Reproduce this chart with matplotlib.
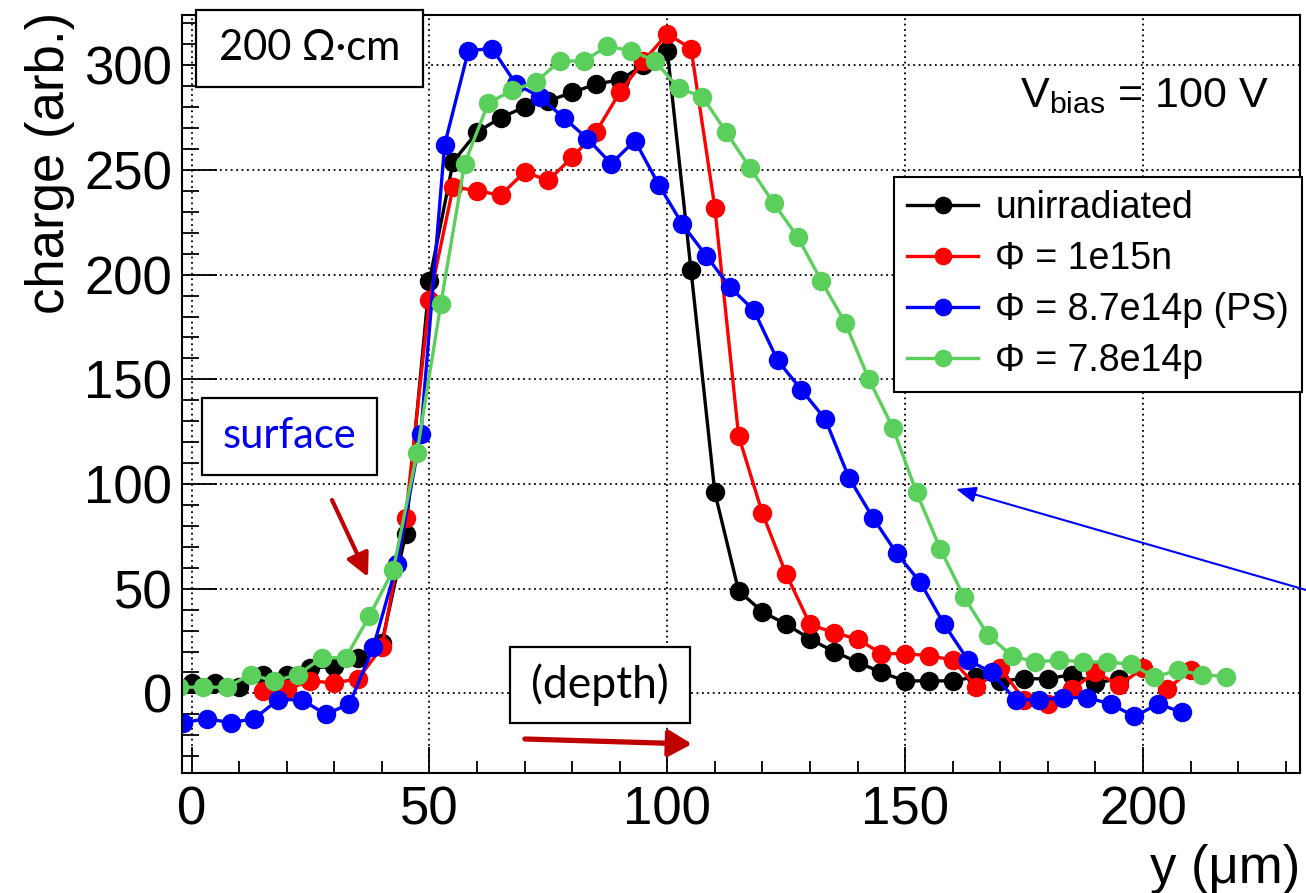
import matplotlib
matplotlib.use('Agg')
import matplotlib.pyplot as plt
from matplotlib.patches import Rectangle, FancyArrowPatch
from matplotlib.ticker import MultipleLocator

plt.rcParams['font.family'] = ['Liberation Sans', 'DejaVu Sans']
plt.rcParams['mathtext.fontset'] = 'custom'
plt.rcParams['mathtext.rm'] = 'Liberation Sans'
plt.rcParams['mathtext.it'] = 'Liberation Sans:italic'

# depth positions (um) and collected charge for each sample
x_unirr = [0, 5, 10, 15, 20, 25, 30, 35, 40, 45, 50, 55, 60, 65, 70, 75, 80, 85, 90, 95,
           100, 105, 110, 115, 120, 125, 130, 135, 140, 145, 150, 155, 160, 165, 170, 175,
           180, 185, 190, 195]
q_unirr = [5, 5, 3, 9, 9, 12, 13, 17, 24, 76, 197, 254, 268, 275, 280, 283, 287, 291, 293, 300,
           307, 202, 96, 49, 39, 33, 26, 20, 15, 10, 6, 6, 6, 8, 6, 7, 7, 9, 5, 7]

x_1e15n = [15, 20, 25, 30, 35, 40, 45, 50, 55, 60, 65, 70, 75, 80, 85, 90, 95, 100, 105, 110,
           115, 120, 125, 130, 135, 140, 145, 150, 155, 160, 165, 170, 175, 180, 185, 190,
           195, 200, 205, 210]
q_1e15n = [1, 2, 6, 5, 7, 22, 84, 188, 242, 240, 238, 249, 245, 256, 268, 287, 302, 315, 308, 232,
           123, 86, 57, 33, 29, 26, 19, 19, 18, 16, 3, 12, -3, -5, 2, 10, 4, 12, 2, 11]

x_87e14p = [-1.8, 3.2, 8.2, 13.2, 18.2, 23.2, 28.2, 33.2, 38.2, 43.2, 48.2, 53.2, 58.2, 63.2,
            68.2, 73.2, 78.2, 83.2, 88.2, 93.2, 98.2, 103.2, 108.2, 113.2, 118.2, 123.2, 128.2,
            133.2, 138.2, 143.2, 148.2, 153.2, 158.2, 163.2, 168.2, 173.2, 178.2, 183.2, 188.2,
            193.2, 198.2, 203.2, 208.2]
q_87e14p = [-14, -12, -14, -12, -3, -3, -10, -5, 22, 62, 124, 262, 307, 308, 291, 285, 275, 265,
            253, 264, 243, 224, 209, 194, 183, 159, 145, 131, 103, 84, 67, 53, 33, 16, 10, -3,
            -3, -2, -2, -5, -11, -5, -9]

x_78e14p = [-2.6, 2.4, 7.4, 12.4, 17.4, 22.4, 27.4, 32.4, 37.4, 42.4, 47.4, 52.4, 57.4, 62.4,
            67.4, 72.4, 77.4, 82.4, 87.4, 92.4, 97.4, 102.4, 107.4, 112.4, 117.4, 122.4, 127.4,
            132.4, 137.4, 142.4, 147.4, 152.4, 157.4, 162.4, 167.4, 172.4, 177.4, 182.4, 187.4,
            192.4, 197.4, 202.4, 207.4, 212.4, 217.4]
q_78e14p = [3, 3, 3, 9, 6, 9, 17, 17, 37, 59, 115, 186, 253, 282, 288, 292, 302, 302, 309, 307,
            302, 289, 285, 268, 251, 234, 218, 197, 177, 150, 127, 96, 69, 46, 28, 18, 15, 16,
            15, 15, 14, 8, 11, 9, 8]

labels = ['unirradiated', 'Φ = 1e15n', 'Φ = 8.7e14p (PS)', 'Φ = 7.8e14p']
colors = ['black', '#ff0000', '#0000ff', '#5bcf5b']

W, H = 1306, 893
fig = plt.figure(figsize=(W / 100, H / 100), dpi=100)
ax = fig.add_axes([182 / W, 1 - 773 / H, (1300 - 182) / W, (773 - 15) / H])

series = [(x_unirr, q_unirr), (x_1e15n, q_1e15n), (x_87e14p, q_87e14p), (x_78e14p, q_78e14p)]
for (xs, qs), lab, c in zip(series, labels, colors):
    ax.plot(xs, qs, '-o', color=c, lw=2.4, ms=13, label=lab)

ax.set_xlim(-2, 233)
ax.set_ylim(-38, 324)
ax.xaxis.set_major_locator(MultipleLocator(50))
ax.xaxis.set_minor_locator(MultipleLocator(10))
ax.yaxis.set_major_locator(MultipleLocator(50))
ax.yaxis.set_minor_locator(MultipleLocator(10))
ax.grid(True, which='major', color='black', ls=(0, (1, 2)), lw=1.3)
ax.tick_params(axis='both', which='both', direction='in', labelsize=38, width=1.3)
ax.tick_params(axis='x', which='major', length=19, pad=9)
ax.tick_params(axis='x', which='minor', length=9)
ax.tick_params(axis='y', which='major', length=25, pad=7)
ax.tick_params(axis='y', which='minor', length=12)
for s in ax.spines.values():
    s.set_linewidth(1.5)

leg = ax.legend(loc='upper left', bbox_to_anchor=(894 / W, 1 - 177 / H),
                bbox_transform=fig.transFigure, borderaxespad=0, fontsize=27,
                handlelength=1.9, handletextpad=0.45, labelspacing=0.4,
                borderpad=0.35, fancybox=False, framealpha=1, edgecolor='black',
                markerscale=0.9)
leg.get_frame().set_linewidth(1.5)
leg.set_zorder(10)

fig.text(50 / W, 1 - 12 / H, 'charge (arb.)', rotation=90, ha='center', va='top', fontsize=38)
fig.text(1300 / W, 1 - 883 / H, 'y (μm)', ha='right', va='baseline', fontsize=38)
fig.text(1269 / W, 1 - 107 / H, r'V$_{\rm bias}$ = 100 V', ha='right', va='baseline', fontsize=31)

# boxed annotations
def boxed(x0, y0, x1, y1, txt, color, size):
    fig.patches.append(Rectangle((x0 / W, 1 - y1 / H), (x1 - x0) / W, (y1 - y0) / H,
                                 transform=fig.transFigure, facecolor='white',
                                 edgecolor='black', lw=1.6, zorder=5))
    fig.text((x0 + x1) / 2 / W, 1 - (y0 + y1) / 2 / H, txt, ha='center', va='center',
             color=color, fontsize=size, family='Lato', zorder=6)

boxed(196, 10, 423, 87, '200 Ω·cm', 'black', 30)
boxed(202, 398, 377, 475, 'surface', '#0000ee', 30)
boxed(510, 647, 690, 723, '(depth)', 'black', 32)

def arrow(p0, p1, color, lw, hl, hw, ms):
    fig.patches.append(FancyArrowPatch((p0[0] / W, 1 - p0[1] / H), (p1[0] / W, 1 - p1[1] / H),
                                       transform=fig.transFigure, color=color, lw=lw,
                                       arrowstyle=f'-|>,head_length={hl},head_width={hw}',
                                       mutation_scale=ms, shrinkA=0, shrinkB=0, zorder=7))

arrow((332, 500), (368, 577), '#c00000', 3, 0.7, 0.35, 20)
arrow((525, 739), (692, 744), '#c00000', 3.8, 0.7, 0.4, 20)
arrow((1320, 594), (956, 489), '#0000ff', 1.5, 0.8, 0.32, 15)

fig.savefig('out.png', dpi=100)
